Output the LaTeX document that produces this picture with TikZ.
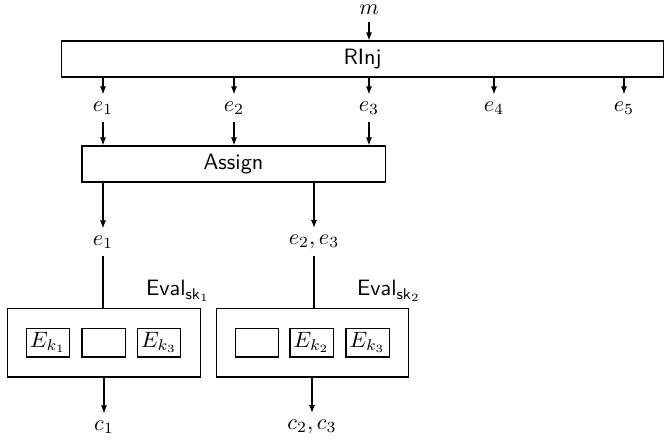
\documentclass[tikz,border=0pt]{standalone}
\usetikzlibrary{arrows.meta}
\begin{document}
\begin{tikzpicture}[x=0.45pt,y=-0.45pt,
  arr/.style={-{Latex[length=3.6pt,width=2.7pt]},line width=0.5pt},
  ln/.style={line width=0.5pt},
  bigbox/.style={draw,line width=0.5pt,inner sep=0pt,minimum height=16.2pt,font=\sffamily},
  evalbox/.style={draw,line width=0.5pt,inner sep=0pt,minimum width=86.6pt,minimum height=31pt},
  inbox/.style={draw,line width=0.5pt,inner sep=0pt,minimum width=19.4pt,minimum height=13pt},
  lab/.style={inner sep=3pt}
]
\useasboundingbox (0,0) rectangle (664,442);
\node[lab] (m) at (369,10) {$m$};
\node[bigbox,minimum width=270.5pt] (rinj) at (362.5,59) {RInj};
\foreach \i/\x in {1/103,2/234,3/369,4/494,5/624}{
  \node[lab] (e\i) at (\x,108) {$e_{\i}$};
  \draw[arr] (e\i |- rinj.south) -- (e\i.north);
}
\draw[arr] (m.south) -- (m |- rinj.north);
\node[bigbox,minimum width=136.4pt] (assign) at (233.5,164) {Assign};
\foreach \i in {1,2,3}{
  \draw[arr] (e\i.south) -- (e\i |- assign.north);
}
\node[lab] (f1) at (103,242) {$e_1$};
\node[lab] (f23) at (314,242) {$e_2,e_3$};
\draw[arr] (f1 |- assign.south) -- (f1.north);
\draw[arr] (f23 |- assign.south) -- (f23.north);

\node[evalbox] (ev1) at (104,342.5) {};
\node[evalbox] (ev2) at (312.5,342.5) {};
\node[font=\sffamily,inner sep=0pt] (lev1) at (178,291) {Eval$_{\mathsf{sk}_1}$};
\node[font=\sffamily,inner sep=0pt] (lev2) at (389,291) {Eval$_{\mathsf{sk}_2}$};
\draw[ln] (f1.south) -- (f1 |- ev1.north);
\draw[ln] (f23.south) -- (f23 |- ev2.north);

\node[inbox] (a1) at (48,342.5) {$E_{k_1}$};
\node[inbox] (a2) at (103.5,342.5) {};
\node[inbox] (a3) at (159,342.5) {$E_{k_3}$};
\node[inbox] (b1) at (257,342.5) {};
\node[inbox] (b2) at (311.5,342.5) {$E_{k_2}$};
\node[inbox] (b3) at (367.5,342.5) {$E_{k_3}$};

\node[lab] (c1) at (104,427) {$c_1$};
\node[lab] (c23) at (312,427) {$c_2,c_3$};
\draw[arr] (ev1.south) -- (c1.north);
\draw[arr] (c23 |- ev2.south) -- (c23.north);
\end{tikzpicture}
\end{document}
